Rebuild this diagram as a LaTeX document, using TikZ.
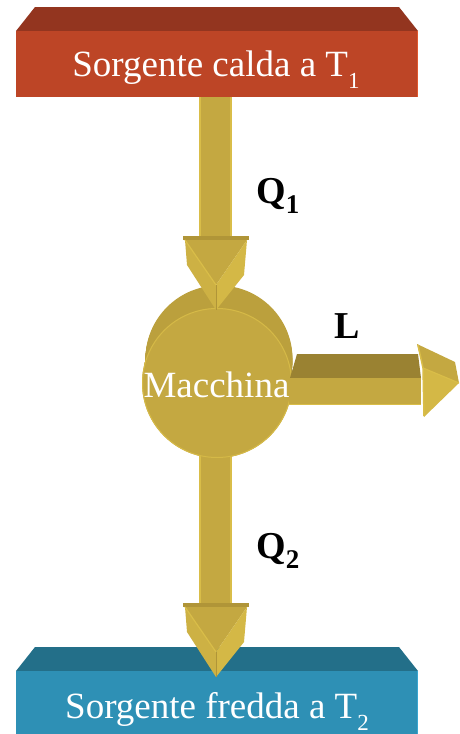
\documentclass[tikz,border=0pt]{standalone}
\usepackage{fontspec}
\setmainfont{Liberation Serif}
\definecolor{hottop}{HTML}{93351F}
\definecolor{hotfront}{HTML}{BD4526}
\definecolor{hotedge}{HTML}{E0582E}
\definecolor{coldtop}{HTML}{236F89}
\definecolor{coldfront}{HTML}{2E90B5}
\definecolor{coldedge}{HTML}{3AA6D0}
\definecolor{goldmain}{HTML}{C4A841}
\definecolor{golddark}{HTML}{9A8232}
\definecolor{goldside}{HTML}{BBA03D}
\definecolor{goldrim}{HTML}{B09538}
\definecolor{goldlight}{HTML}{D9BD48}
\definecolor{goldfacetL}{HTML}{CDB144}
\definecolor{goldfacetR}{HTML}{D4B846}
\tikzset{
  boxtext/.style={text=white, inner sep=0, font=\fontsize{37}{37}\selectfont},
  qlabel/.style={text=black, inner sep=0, font=\bfseries\fontsize{38}{38}\selectfont},
  headdown/.pic={
    \fill[goldrim] (-33,-74) rectangle (33,-70);
    \fill[goldmain] (-31,-70) -- (31,-70) -- (0,-25) -- cycle;
    \fill[goldfacetL] (-31,-70) -- (0,-25) -- (0,0) -- (-29,-45) -- cycle;
    \fill[goldfacetR] (31,-70) -- (0,-25) -- (0,0) -- (28,-35) -- cycle;
    \draw[goldlight, line width=1.2pt] (-31,-70) -- (0,-25);
    \draw[goldrim, line width=0.8pt] (0,-25) -- (0,0);
  },
  shaft/.style={fill=goldmain},
}
\begin{document}
\begin{tikzpicture}[x=1pt,y=-1pt]
\useasboundingbox (0,0) rectangle (459,734);
% hot source
\fill[hottop] (35,7) -- (399,7) -- (418,31) -- (16,31) -- cycle;
\fill[hotfront] (16,31) rectangle (418,97);
\draw[hotedge, line width=1pt] (417.5,31) -- (417.5,97);
\node[boxtext, anchor=base] (hot) at (216,76) {Sorgente calda a T\raisebox{-12pt}{\fontsize{23}{23}\selectfont 1}};
% top shaft
\fill[shaft] (199,97) rectangle (232,238);
\draw[goldlight, line width=1.5pt] (200,97) -- (200,238) (231,97) -- (231,238);
% cold source
\fill[coldtop] (35,647) -- (399,647) -- (418,671) -- (16,671) -- cycle;
\fill[coldfront] (16,671) rectangle (418,734);
\draw[coldedge, line width=1pt] (417.5,671) -- (417.5,734);
\node[boxtext, anchor=base] (cold) at (217,718) {Sorgente fredda a T\raisebox{-12pt}{\fontsize{23}{23}\selectfont 2}};
% bottom shaft
\fill[shaft] (199,440) rectangle (232,604);
\draw[goldlight, line width=1.5pt] (200,440) -- (200,604) (231,440) -- (231,604);
% machine cylinder
\foreach \t in {0,1,...,24}{
  \fill[goldside] ({219-2*\t/24},{359+24*\t/24}) circle (73.5);
}
\fill[goldmain] (217,383) circle (75);
\draw[goldlight!80!goldmain, line width=1pt] (217,383) circle (74.5);
% arrowheads
\pic at (216,310) {headdown};
\pic at (216,677) {headdown};
% right arrow
\fill[golddark] (297,354) -- (418,354) -- (421,378) -- (290,378) -- cycle;
\fill[goldmain] (289,378) rectangle (421,405);
\draw[goldlight, line width=1pt] (289,404.5) -- (421,404.5);
\fill[goldmain] (417,344) -- (455,362) -- (459,383) -- (423,368) -- cycle;
\fill[goldfacetR] (423,368) -- (459,383) -- (424,417) -- cycle;
\draw[goldlight, line width=1.2pt] (423,368) -- (459,383);
\draw[goldlight, line width=1.5pt] (418,345) -- (423,368) -- (424,416);
% texts
\node[boxtext, anchor=base] (mach) at (216.5,397) {Macchina};
\node[qlabel, anchor=base west] (q1) at (256,203) {Q\raisebox{-10pt}{\fontsize{27}{27}\selectfont 1}};
\node[qlabel, anchor=base west] (q2) at (256,558) {Q\raisebox{-10pt}{\fontsize{27}{27}\selectfont 2}};
\node[qlabel, anchor=base west] (lw) at (334,338) {L};
\end{tikzpicture}
\end{document}
